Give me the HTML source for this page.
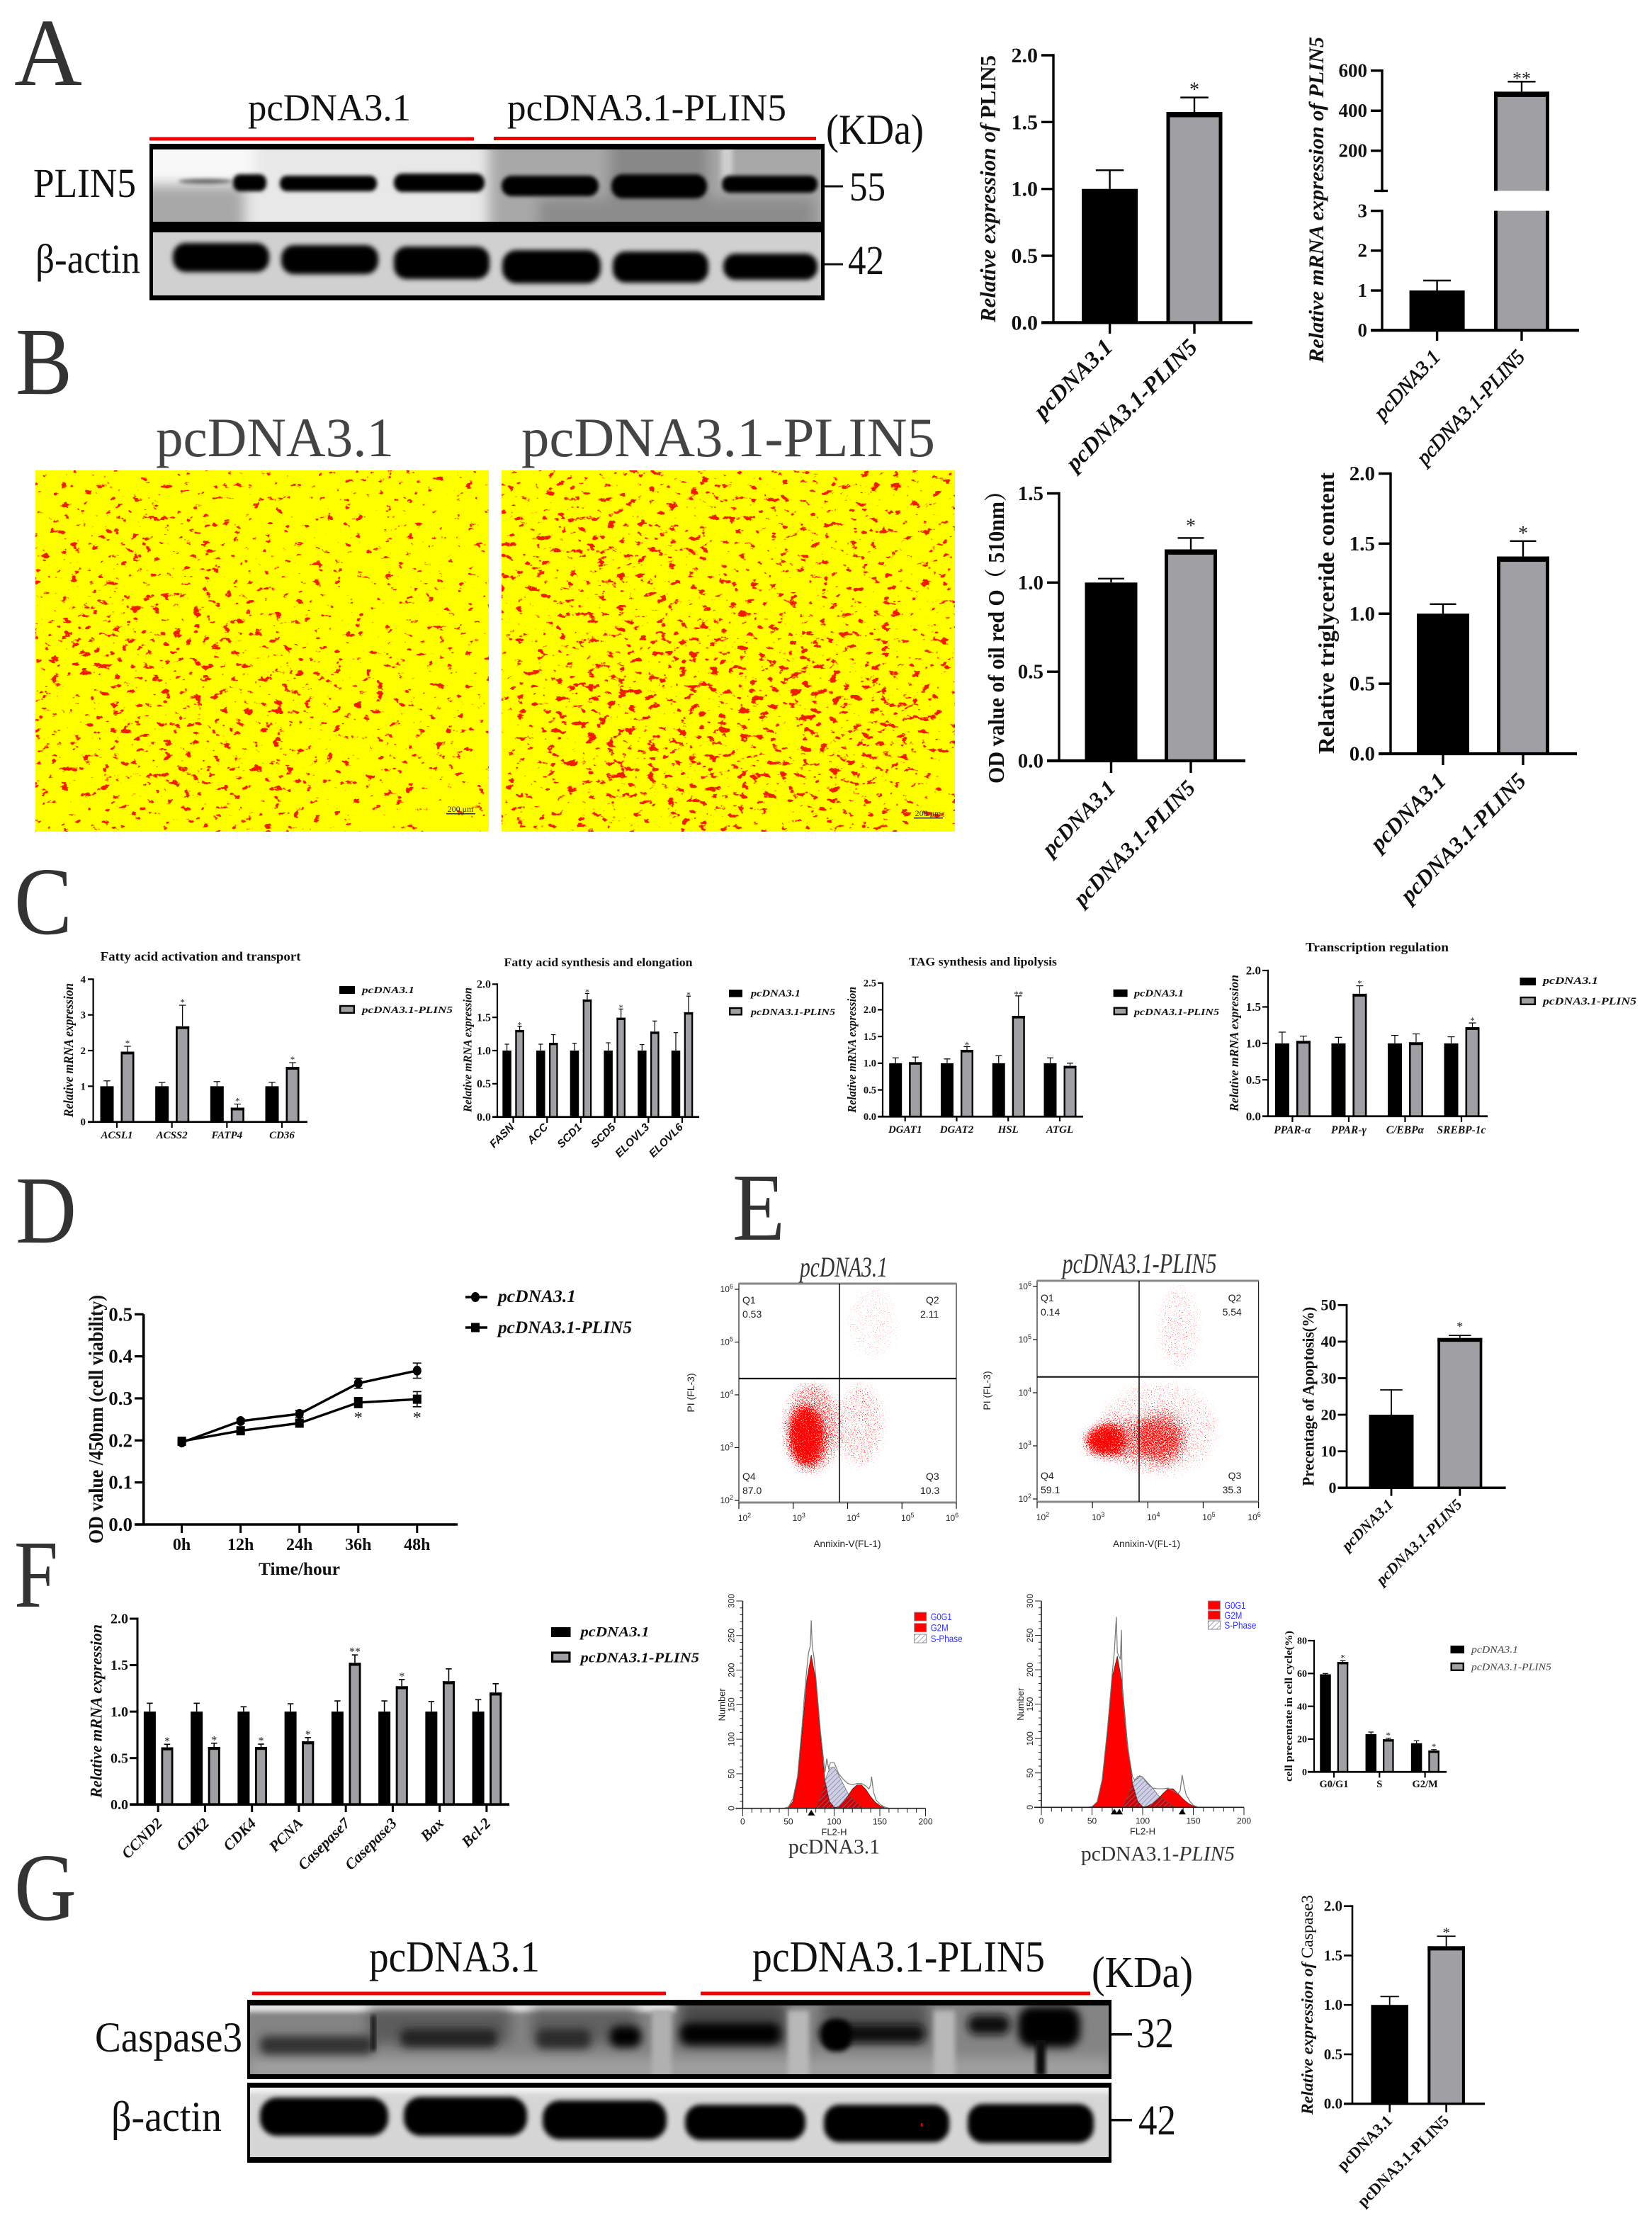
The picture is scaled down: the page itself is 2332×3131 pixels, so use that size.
<!DOCTYPE html>
<html lang="en">
<head>
<meta charset="utf-8">
<title>PLIN5 multi-panel figure</title>
<style>
html,body{margin:0;padding:0;background:#fff;}
svg{display:block;}
text{font-family:"Liberation Serif","DejaVu Serif","Noto Serif CJK SC",serif;}
.sans{font-family:"Liberation Sans","DejaVu Sans",sans-serif;}
.letter{font-size:136px;fill:#333;}
.big{fill:#111;}
</style>
</head>
<body>
<svg id="figure" xmlns="http://www.w3.org/2000/svg" width="2332" height="3131" viewBox="0 0 2332 3131">
<defs>
<filter id="b2" x="-30%" y="-60%" width="160%" height="220%"><feGaussianBlur stdDeviation="2.6"/></filter>
<filter id="b3" x="-30%" y="-70%" width="160%" height="240%"><feGaussianBlur stdDeviation="3.5"/></filter>
<filter id="b5" x="-40%" y="-100%" width="180%" height="300%"><feGaussianBlur stdDeviation="6"/></filter>
<filter id="b9" x="-40%" y="-60%" width="180%" height="220%"><feGaussianBlur stdDeviation="9"/></filter>
<filter id="oilDots" x="0" y="0" width="1" height="1" color-interpolation-filters="sRGB">
<feGaussianBlur in="SourceAlpha" stdDeviation="30" result="d"/>
<feTurbulence type="fractalNoise" baseFrequency="0.07 0.11" numOctaves="4" seed="11" result="t"/>
<feColorMatrix in="t" type="matrix" values="0 0 0 0 0  0 0 0 0 0  0 0 0 0 0  0 0 0 1 0" result="n"/>
<feComposite in="d" in2="n" operator="arithmetic" k1="0" k2="0.15" k3="1" k4="-0.74" result="c"/>
<feComponentTransfer in="c" result="m"><feFuncA type="linear" slope="16"/></feComponentTransfer>
<feFlood flood-color="#f01c00" result="r"/>
<feComposite in="r" in2="m" operator="in"/>
</filter>
<filter id="oilDots2" x="0" y="0" width="1" height="1" color-interpolation-filters="sRGB">
<feGaussianBlur in="SourceAlpha" stdDeviation="30" result="d"/>
<feTurbulence type="fractalNoise" baseFrequency="0.07 0.11" numOctaves="4" seed="29" result="t"/>
<feColorMatrix in="t" type="matrix" values="0 0 0 0 0  0 0 0 0 0  0 0 0 0 0  0 0 0 1 0" result="n"/>
<feComposite in="d" in2="n" operator="arithmetic" k1="0" k2="0.15" k3="1" k4="-0.72" result="c"/>
<feComponentTransfer in="c" result="m"><feFuncA type="linear" slope="16"/></feComponentTransfer>
<feFlood flood-color="#f01c00" result="r"/>
<feComposite in="r" in2="m" operator="in"/>
</filter>
<filter id="speck" x="0" y="0" width="1" height="1" color-interpolation-filters="sRGB">
<feGaussianBlur in="SourceAlpha" stdDeviation="7" result="d"/>
<feTurbulence type="fractalNoise" baseFrequency="0.75" numOctaves="2" seed="5" result="t"/>
<feColorMatrix in="t" type="matrix" values="0 0 0 0 0  0 0 0 0 0  0 0 0 0 0  0 0 0 2.2 -0.6" result="n"/>
<feComposite in="d" in2="n" operator="arithmetic" k1="0" k2="1" k3="1" k4="-1" result="c"/>
<feComponentTransfer in="c" result="m"><feFuncA type="linear" slope="6"/></feComponentTransfer>
<feFlood flood-color="#ff0000" result="f"/>
<feComposite in="f" in2="m" operator="in"/>
</filter>
<pattern id="hatch" width="5" height="5" patternUnits="userSpaceOnUse" patternTransform="rotate(45)">
<rect width="5" height="5" fill="none"/><line x1="0" y1="0" x2="0" y2="5" stroke="#7a7aa8" stroke-width="1.4"/>
</pattern>
<clipPath id="clipA1"><rect x="216" y="211" width="943" height="102"/></clipPath>
<clipPath id="clipA2"><rect x="216" y="328" width="943" height="89"/></clipPath>
<clipPath id="clipG1"><rect x="353" y="2831" width="1212" height="97"/></clipPath>
<clipPath id="clipG2"><rect x="353" y="2947" width="1212" height="98"/></clipPath>
<clipPath id="clipOilL"><rect x="50" y="664" width="640" height="510"/></clipPath>
<clipPath id="clipOilR"><rect x="708" y="664" width="640" height="510"/></clipPath>
</defs>

<rect x="0" y="0" width="2332" height="3131" fill="#fff"/>

<text class="letter" x="20" y="120" textLength="96" lengthAdjust="spacingAndGlyphs">A</text>
<text class="letter" x="22" y="556" textLength="80" lengthAdjust="spacingAndGlyphs">B</text>
<text class="letter" x="20" y="1318" textLength="82" lengthAdjust="spacingAndGlyphs">C</text>
<text class="letter" x="22" y="1754" textLength="86" lengthAdjust="spacingAndGlyphs">D</text>
<text class="letter" x="1034" y="1750" textLength="74" lengthAdjust="spacingAndGlyphs">E</text>
<text class="letter" x="20" y="2268" textLength="62" lengthAdjust="spacingAndGlyphs">F</text>
<text class="letter" x="20" y="2710" textLength="88" lengthAdjust="spacingAndGlyphs">G</text>

<!-- Panel A blot -->
<g>
<text class="big" x="350" y="170" font-size="54" textLength="230" lengthAdjust="spacingAndGlyphs">pcDNA3.1</text>
<text class="big" x="716" y="170" font-size="54" textLength="394" lengthAdjust="spacingAndGlyphs">pcDNA3.1-PLIN5</text>
<text class="big" x="1166" y="203" font-size="60" textLength="138" lengthAdjust="spacingAndGlyphs">(KDa)</text>
<rect x="211" y="193.500" width="458" height="5" fill="#f00000"/>
<rect x="697" y="193" width="455" height="5" fill="#f00000"/>
<rect x="211" y="203" width="953" height="221" fill="#000"/>
<g clip-path="url(#clipA1)">
<rect x="216" y="211" width="943" height="102" fill="#e8e8e8"/>
<rect x="190" y="185" width="170" height="75" fill="#f8f8f8" filter="url(#b9)"/>
<rect x="195" y="262" width="150" height="70" fill="#a8a8a8" filter="url(#b9)"/>
<rect x="690" y="180" width="490" height="160" fill="#a8a8a8" filter="url(#b9)"/>
<rect x="860" y="190" width="140" height="140" fill="#888" filter="url(#b9)"/>
<rect x="760" y="280" width="390" height="50" fill="#8c8c8c" filter="url(#b9)"/>
<rect x="1018" y="195" width="16" height="70" fill="#cfcfcf" filter="url(#b3)"/>
<ellipse cx="290" cy="256" rx="38" ry="3.500" fill="#666" filter="url(#b2)"/>
<rect x="329" y="246" width="47" height="24" rx="10" fill="#000" filter="url(#b2)"/>
<rect x="395" y="248" width="137" height="22" rx="10" fill="#000" filter="url(#b2)"/>
<rect x="556" y="245" width="128" height="26" rx="12" fill="#000" filter="url(#b2)"/>
<rect x="708" y="248" width="137" height="29" rx="14" fill="#000" filter="url(#b2)"/>
<rect x="863" y="246" width="135" height="34" rx="16" fill="#000" filter="url(#b2)"/>
<rect x="1019" y="248" width="135" height="24" rx="11" fill="#000" filter="url(#b2)"/>
</g>
<g clip-path="url(#clipA2)">
<rect x="216" y="328" width="943" height="89" fill="#d0d0d0"/>
<rect x="244" y="343" width="136" height="41" rx="18" fill="#000" filter="url(#b3)"/>
<rect x="397" y="346" width="137" height="41" rx="18" fill="#000" filter="url(#b3)"/>
<rect x="556" y="348" width="135" height="46" rx="18" fill="#000" filter="url(#b3)"/>
<rect x="709" y="353" width="139" height="47" rx="20" fill="#000" filter="url(#b3)"/>
<rect x="865" y="355" width="135" height="44" rx="18" fill="#000" filter="url(#b3)"/>
<rect x="1021" y="358" width="133" height="37" rx="17" fill="#000" filter="url(#b3)"/>
</g>
<text class="big" x="47" y="278" font-size="58" textLength="145" lengthAdjust="spacingAndGlyphs">PLIN5</text>
<text class="big" x="50" y="385" font-size="58" textLength="148" lengthAdjust="spacingAndGlyphs">β-actin</text>
<text class="big" x="1199" y="283" font-size="58" textLength="51" lengthAdjust="spacingAndGlyphs">55</text>
<text class="big" x="1197" y="387" font-size="58" textLength="51" lengthAdjust="spacingAndGlyphs">42</text>
<rect x="1164" y="261.500" width="26" height="3" fill="#111"/>
<rect x="1164" y="371.500" width="26" height="3" fill="#111"/>
</g>

<!-- Panel B oil red images -->
<g>
<text x="220" y="644" font-size="78" fill="#444" textLength="336" lengthAdjust="spacingAndGlyphs">pcDNA3.1</text>
<text x="736" y="644" font-size="78" fill="#444" textLength="584" lengthAdjust="spacingAndGlyphs">pcDNA3.1-PLIN5</text>
<rect x="50" y="664" width="640" height="510" fill="#ffff00"/>
<g clip-path="url(#clipOilL)">
<g filter="url(#oilDots)">
<rect x="-40" y="580" width="820" height="680" fill="#000" fill-opacity="0.3"/>
<ellipse cx="230" cy="990" rx="220" ry="170" fill="#000" fill-opacity="0.5"/>
<ellipse cx="170" cy="800" rx="160" ry="120" fill="#000" fill-opacity="0.4"/>
<ellipse cx="470" cy="1040" rx="180" ry="120" fill="#000" fill-opacity="0.3"/>
</g>
</g>
<rect x="708" y="664" width="640" height="510" fill="#ffff00"/>
<g clip-path="url(#clipOilR)">
<g filter="url(#oilDots2)">
<rect x="620" y="580" width="820" height="680" fill="#000" fill-opacity="0.45"/>
<ellipse cx="1040" cy="1010" rx="280" ry="140" fill="#000" fill-opacity="0.55"/>
<ellipse cx="850" cy="790" rx="160" ry="90" fill="#000" fill-opacity="0.3"/>
</g>
</g>
<text x="650" y="1146" font-size="12" text-anchor="middle" fill="#333">200 μm</text>
<rect x="630" y="1148" width="41" height="1.500" fill="#333"/>
<text x="1310" y="1152" font-size="12" text-anchor="middle" fill="#333">200 μm</text>
<rect x="1290" y="1154" width="41" height="1.500" fill="#333"/>
</g>

<!-- Panel E flow clouds -->
<g filter="url(#speck)">
<rect x="1043" y="1812" width="307" height="309" fill="none"/>
<ellipse cx="1138" cy="2028" rx="24" ry="42" fill="#000"/>
<ellipse cx="1146" cy="2016" rx="38" ry="62" fill="#000" fill-opacity="0.42"/>
<ellipse cx="1214" cy="2012" rx="34" ry="58" fill="#000" fill-opacity="0.2"/>
<ellipse cx="1232" cy="1868" rx="34" ry="50" fill="#000" fill-opacity="0.09"/>
</g>
<g filter="url(#speck)">
<rect x="1464" y="1808" width="313" height="312" fill="none"/>
<ellipse cx="1560" cy="2034" rx="28" ry="22" fill="#000"/>
<ellipse cx="1640" cy="2030" rx="36" ry="40" fill="#000" fill-opacity="0.42"/>
<ellipse cx="1600" cy="2032" rx="66" ry="30" fill="#000" fill-opacity="0.4"/>
<ellipse cx="1635" cy="2018" rx="84" ry="66" fill="#000" fill-opacity="0.15"/>
<ellipse cx="1664" cy="1875" rx="28" ry="58" fill="#000" fill-opacity="0.14"/>
</g>

<!-- Panel G blot -->
<g>
<text class="big" x="521" y="2783" font-size="62" textLength="241" lengthAdjust="spacingAndGlyphs">pcDNA3.1</text>
<text class="big" x="1062" y="2783" font-size="62" textLength="413" lengthAdjust="spacingAndGlyphs">pcDNA3.1-PLIN5</text>
<text class="big" x="1541" y="2805" font-size="62" textLength="143" lengthAdjust="spacingAndGlyphs">(KDa)</text>
<rect x="356" y="2811.500" width="584" height="5" fill="#f00000"/>
<rect x="989" y="2811.500" width="550" height="5" fill="#f00000"/>
<rect x="349" y="2823" width="1220" height="112" fill="#000"/>
<rect x="349" y="2940" width="1220" height="113" fill="#000"/>
<g clip-path="url(#clipG1)">
<rect x="353" y="2831" width="1212" height="97" fill="#848484"/>
<rect x="345" y="2820" width="610" height="20" fill="#e4e4e4" filter="url(#b3)"/>
<rect x="520" y="2835" width="200" height="50" fill="#5c5c5c" filter="url(#b9)"/>
<rect x="750" y="2835" width="150" height="50" fill="#606060" filter="url(#b9)"/>
<rect x="960" y="2825" width="150" height="65" fill="#4a4a4a" filter="url(#b9)"/>
<rect x="1160" y="2825" width="150" height="55" fill="#555" filter="url(#b9)"/>
<rect x="350" y="2905" width="1220" height="30" fill="#a0a0a0" filter="url(#b9)"/>
<rect x="920" y="2838" width="28" height="95" fill="#b0b0b0" filter="url(#b3)"/>
<rect x="1112" y="2838" width="30" height="95" fill="#b8b8b8" filter="url(#b3)"/>
<rect x="1318" y="2838" width="30" height="95" fill="#b8b8b8" filter="url(#b3)"/>
<rect x="367" y="2874" width="160" height="26" rx="10" fill="#333" filter="url(#b5)"/>
<rect x="524" y="2845" width="6" height="50" fill="#111" filter="url(#b2)"/>
<rect x="565" y="2864" width="137" height="26" rx="10" fill="#222" filter="url(#b5)"/>
<rect x="757" y="2864" width="77" height="28" rx="10" fill="#2a2a2a" filter="url(#b5)"/>
<rect x="861" y="2860" width="44" height="30" rx="12" fill="#000" filter="url(#b5)"/>
<rect x="960" y="2856" width="142" height="30" rx="12" fill="#000" filter="url(#b5)"/>
<rect x="1157" y="2858" width="148" height="26" rx="10" fill="#111" filter="url(#b5)"/>
<rect x="1160" y="2850" width="42" height="46" rx="18" fill="#000" filter="url(#b3)"/>
<rect x="1366" y="2844" width="60" height="28" rx="12" fill="#111" filter="url(#b5)"/>
<rect x="1437" y="2832" width="88" height="58" rx="20" fill="#000" filter="url(#b5)"/>
<rect x="1462" y="2880" width="14" height="50" fill="#111" filter="url(#b2)"/>
</g>
<g clip-path="url(#clipG2)">
<rect x="353" y="2947" width="1212" height="98" fill="#d6d6d6"/>
<rect x="345" y="2940" width="1230" height="14" fill="#f4f4f4" filter="url(#b3)"/>
<rect x="367" y="2961" width="181" height="54" rx="24" fill="#000" filter="url(#b3)"/>
<rect x="570" y="2960" width="174" height="55" rx="24" fill="#000" filter="url(#b3)"/>
<rect x="766" y="2965" width="175" height="55" rx="24" fill="#000" filter="url(#b3)"/>
<rect x="967" y="2971" width="170" height="50" rx="22" fill="#000" filter="url(#b3)"/>
<rect x="1163" y="2971" width="177" height="53" rx="22" fill="#000" filter="url(#b3)"/>
<rect x="1366" y="2970" width="178" height="55" rx="22" fill="#000" filter="url(#b3)"/>
<rect x="1300" y="2997" width="2.500" height="5" fill="#e00000"/>
</g>
<text class="big" x="134" y="2896" font-size="60" textLength="208" lengthAdjust="spacingAndGlyphs">Caspase3</text>
<text class="big" x="157" y="3008" font-size="60" textLength="156" lengthAdjust="spacingAndGlyphs">β-actin</text>
<text class="big" x="1604" y="2890" font-size="60" textLength="53" lengthAdjust="spacingAndGlyphs">32</text>
<text class="big" x="1607" y="3013" font-size="60" textLength="53" lengthAdjust="spacingAndGlyphs">42</text>
<rect x="1569" y="2870" width="29" height="3.500" fill="#111"/>
<rect x="1569" y="2991" width="29" height="3.500" fill="#111"/>
</g>

<script>
/* ---------- chart data ---------- */
const twoGroups = ['pcDNA3.1', 'pcDNA3.1-PLIN5'];

const a1Ticks = ['0.0', '0.5', '1.0', '1.5', '2.0'];
const a1Values = [1.0, 1.576];
const a1Errors = [0.14, 0.108];
const a1Stars = ['', '*'];

const a2Ticks = ['0', '1', '2', '3', '200', '400', '600'];
const a2Values = [1.0, 495];
const a2Errors = [0.25, 50];
const a2Stars = ['', '**'];

const b1Ticks = ['0.0', '0.5', '1.0', '1.5'];
const b1Values = [1.0, 1.186];
const b1Errors = [0.022, 0.064];
const b1Stars = ['', '*'];

const b2Ticks = ['0.0', '0.5', '1.0', '1.5', '2.0'];
const b2Values = [1.0, 1.408];
const b2Errors = [0.068, 0.11];
const b2Stars = ['', '*'];

const c1Genes = ['ACSL1', 'ACSS2', 'FATP4', 'CD36'];
const c1Ticks = ['0', '1', '2', '3', '4'];
const c1Control = [1, 1, 1, 1];
const c1ControlErr = [0.15, 0.106, 0.13, 0.11];
const c1Plin5 = [1.97, 2.68, 0.40, 1.54];
const c1Plin5Err = [0.15, 0.59, 0.10, 0.12];
const c1Stars = ['*', '*', '*', '*'];

const c2Genes = ['FASN', 'ACC', 'SCD1', 'SCD5', 'ELOVL3', 'ELOVL6'];
const c2Ticks = ['0.0', '0.5', '1.0', '1.5', '2.0'];
const c2Control = [1, 1, 1, 1, 1, 1];
const c2ControlErr = [0.096, 0.096, 0.11, 0.117, 0.09, 0.27];
const c2Plin5 = [1.31, 1.117, 1.77, 1.495, 1.285, 1.577];
const c2Plin5Err = [0.057, 0.123, 0.09, 0.131, 0.16, 0.243];
const c2Stars = ['*', '', '*', '*', '', '*'];

const c3Genes = ['DGAT1', 'DGAT2', 'HSL', 'ATGL'];
const c3Ticks = ['0.0', '0.5', '1.0', '1.5', '2.0', '2.5'];
const c3Control = [1, 1, 1, 1];
const c3ControlErr = [0.1, 0.08, 0.14, 0.1];
const c3Plin5 = [1.02, 1.25, 1.886, 0.95];
const c3Plin5Err = [0.095, 0.06, 0.374, 0.05];
const c3Stars = ['', '*', '**', ''];

const c4Genes = ['PPAR-α', 'PPAR-γ', 'C/EBPα', 'SREBP-1c'];
const c4Ticks = ['0.0', '0.5', '1.0', '1.5', '2.0'];
const c4Control = [1, 1, 1, 1];
const c4ControlErr = [0.154, 0.083, 0.11, 0.09];
const c4Plin5 = [1.034, 1.68, 1.015, 1.222];
const c4Plin5Err = [0.066, 0.11, 0.115, 0.058];
const c4Stars = ['', '*', '', '*'];

const dTimes = ['0h', '12h', '24h', '36h', '48h'];
const dTicks = ['0.0', '0.1', '0.2', '0.3', '0.4', '0.5'];
const dControl = [0.195, 0.246, 0.263, 0.336, 0.366];
const dControlErr = [0.005, 0.005, 0.008, 0.012, 0.018];
const dPlin5 = [0.198, 0.223, 0.241, 0.29, 0.298];
const dPlin5Err = [0.005, 0.006, 0.007, 0.012, 0.018];
const dStars = ['', '', '', '*', '*'];

const eTicks = ['0', '10', '20', '30', '40', '50'];
const eValues = [20, 41];
const eErrors = [6.8, 0.7];
const eStars = ['', '*'];

const flowExponents = ['2', '3', '4', '5', '6'];
const flowControlQuadrants = ['0.53', '2.11', '10.3', '87.0'];
const flowPlin5Quadrants = ['0.14', '5.54', '35.3', '59.1'];

const fGenes = ['CCND2', 'CDK2', 'CDK4', 'PCNA', 'Casepase7', 'Casepase3', 'Bax', 'Bcl-2'];
const fTicks = ['0.0', '0.5', '1.0', '1.5', '2.0'];
const fControl = [1, 1, 1, 1, 1, 1, 1, 1];
const fControlErr = [0.09, 0.09, 0.052, 0.084, 0.115, 0.115, 0.108, 0.128];
const fPlin5 = [0.615, 0.62, 0.62, 0.68, 1.525, 1.273, 1.327, 1.205];
const fPlin5Err = [0.033, 0.04, 0.03, 0.04, 0.085, 0.072, 0.133, 0.095];
const fStars = ['*', '*', '*', '*', '**', '*', '', ''];

const histYTicks = ['0', '50', '100', '150', '200', '250', '300'];
const histXTicks = ['0', '50', '100', '150', '200'];
const histBinsG0 = [50, 55, 60, 65, 70, 75, 80, 85, 90, 95, 100, 105];
const histBinsS = [80, 85, 90, 95, 100, 105, 110, 115, 120, 125, 130, 135];
const histBinsG2 = [100, 105, 110, 115, 120, 125, 130, 135, 140, 145, 150, 155];

const h1G0 = [1, 10, 42, 110, 185, 222, 185, 105, 40, 10, 2, 0];
const h1S = [0, 15, 40, 58, 60, 48, 35, 22, 14, 8, 3, 0];
const h1G2 = [0, 3, 10, 18, 28, 34, 34, 27, 17, 9, 4, 1];
const h1OutlineX = [45, 50, 55, 60, 65, 68, 70, 72, 74, 75, 76, 78, 80, 85, 90, 92, 94, 96, 98, 100, 102, 105, 110, 115, 120, 125, 130, 135, 138, 140, 141, 143, 146, 150, 155, 160];
const h1OutlineY = [0, 2, 14, 46, 120, 170, 200, 225, 235, 272, 236, 218, 190, 112, 52, 72, 58, 66, 66, 66, 60, 50, 42, 36, 34, 36, 36, 32, 28, 34, 46, 24, 12, 6, 2, 0];
const h1Markers = [75];

const h2G0 = [0, 8, 38, 105, 190, 220, 178, 95, 35, 9, 1, 0];
const h2S = [0, 15, 35, 45, 44, 36, 28, 18, 12, 7, 2, 0];
const h2G2 = [0, 2, 6, 12, 20, 27, 27, 20, 12, 6, 2, 0];
const h2OutlineX = [45, 50, 55, 60, 65, 68, 70, 72, 74, 75, 76, 78, 79, 80, 85, 90, 92, 95, 97, 100, 105, 110, 115, 120, 125, 130, 135, 137, 139, 141, 143, 147, 150, 155];
const h2OutlineY = [0, 1, 8, 40, 110, 160, 195, 225, 277, 225, 222, 215, 258, 170, 90, 44, 40, 42, 46, 44, 34, 28, 27, 27, 28, 24, 20, 24, 47, 30, 18, 8, 3, 0];
const h2Markers = [72, 77, 139];

const cycleLabels = ['G0/G1', 'S', 'G2/M'];
const cycleTicks = ['0', '20', '40', '60', '80'];
const cycleControl = [59.5, 23, 17.5];
const cycleControlErr = [0.5, 1.3, 1.5];
const cyclePlin5 = [67, 19.9, 13];
const cyclePlin5Err = [0.8, 0.6, 0.6];
const cycleStars = ['*', '*', '*'];

const gTicks = ['0.0', '0.5', '1.0', '1.5', '2.0'];
const gValues = [1.0, 1.594];
const gErrors = [0.085, 0.101];
const gStars = ['', '*'];

/* ---------- drawing helpers ---------- */
const svg = document.getElementById('figure');
const NS = 'http://www.w3.org/2000/svg';
const BLACK = '#000';
const GRAY = '#a0a0a4';

function el(tag, attrs, parent) {
  const e = document.createElementNS(NS, tag);
  for (const k in attrs) e.setAttribute(k, attrs[k]);
  (parent || svg).appendChild(e);
  return e;
}

function label(parent, parts, x, y, o, name) {
  const t = el('text', { x: x, y: y, 'font-size': o.size, fill: o.fill || '#111' }, parent);
  
  
  if (o.bold) t.setAttribute('font-weight', 'bold');
  if (o.italic) t.setAttribute('font-style', 'italic');
  if (o.anchor) t.setAttribute('text-anchor', o.anchor);
  if (o.sans) t.setAttribute('class', 'sans');
  if (o.outline) {
    t.setAttribute('stroke', o.fill || '#111');
    t.setAttribute('stroke-width', o.outline);
  }
  if (o.rot !== undefined) t.setAttribute('transform', 'rotate(' + o.rot + ' ' + x + ' ' + y + ')');
  if (o.len) {
    t.setAttribute('textLength', o.len);
    t.setAttribute('lengthAdjust', 'spacingAndGlyphs');
  }
  if (typeof parts === 'string') {
    t.textContent = parts;
  } else {
    parts.forEach(function (p) {
      const s = el('tspan', {}, t);
      s.textContent = p[0];
      if (p[1] === 'italic') s.setAttribute('font-style', 'italic');
      if (p[1] === 'normal') s.setAttribute('font-style', 'normal');
      if (p[2]) s.setAttribute('font-weight', p[2]);
    });
  }
  return t;
}

function drawLegend(parent, L) {
  const g = el('g', {}, parent);
  
  
  twoGroups.forEach(function (nameText, i) {
    const sw = el('rect', {
      x: L.sx + (i ? L.sw2 : 0), y: L.sy[i], width: L.sw - (i ? 2 * L.sw2 : 0), height: L.sh - (i ? L.sw2 : 0),
      fill: i ? GRAY : BLACK, stroke: BLACK, 'stroke-width': i ? L.sw2 * 2 : 0
    }, g);
    
    
    label(g, nameText, L.tx, L.ty[i], { size: L.size, bold: L.bold, italic: true, len: L.lens[i], fill: L.fill }, 'legend-entry-' + (i ? 'plin5' : 'control'));
  });
}

function drawBarChart(c) {
  const L = c.layout;
  const g = el('g', {}, svg);
  
  
  const lowMax = L.max;
  const yLow = function (v) { return L.y0 - v * (L.y0 - L.yTop) / lowMax; };
  const yUp = L.upper ? function (v) { return L.upper.y0 - v * (L.upper.y0 - L.upper.yTop) / L.upper.max; } : null;
  const y = function (v) { return (yUp && v > lowMax) ? yUp(v) : yLow(v); };
  const n = c.categories.length;
  const xAt = function (i) { return L.firstTick + (L.lastTick - L.firstTick) * i / (n - 1); };
  const sw = L.sw;

  c.series.forEach(function (s) {
    s.values.forEach(function (v, i) {
      const gray = s.gray || (s.byIndex && i === 1);
      const x = xAt(i) + (s.off || 0) - L.barW / 2;
      const segs = (yUp && v > lowMax) ? [[y(v), L.upper.y0], [L.yTop, L.y0]] : [[y(v), L.y0]];
      const top = y(v);
      const errTop = y(v + s.errors[i]);
      const stem = el('line', { x1: x + L.barW / 2, x2: x + L.barW / 2, y1: top, y2: errTop, stroke: '#000', 'stroke-width': L.eLw }, g);
      
      
      const cap = el('line', { x1: x + L.barW * 0.25, x2: x + L.barW * 0.75, y1: errTop, y2: errTop, stroke: '#000', 'stroke-width': L.eLw }, g);
      
      
      segs.forEach(function (sg, si) {
        const b = el('rect', { x: x, y: sg[0], width: L.barW, height: Math.max(0, sg[1] - sg[0]), fill: gray ? GRAY : BLACK }, g);
        
        
        if (gray) {
          const sides = el('path', {
            d: 'M' + (x + sw / 2) + ' ' + sg[0] + 'V' + sg[1] + 'M' + (x + L.barW - sw / 2) + ' ' + sg[0] + 'V' + sg[1],
            stroke: '#000', 'stroke-width': sw, fill: 'none'
          }, g);
          
          
        }
        if (gray && si === 0) {
          const tp = el('rect', { x: x, y: sg[0], width: L.barW, height: sw * 1.5, fill: '#000' }, g);
          
          
        }
      });
      const st = s.stars ? s.stars[i] : '';
      if (st) {
        label(g, st, x + L.barW / 2, errTop - L.starGap + L.starSize * 0.47, { size: L.starSize, anchor: 'middle', fill: '#222' }, 'significance-marker-' + c.categories[i]);
      }
    });
  });

  /* axes */
  const axisLines = L.upper
    ? [[L.axisX, L.y0, L.axisX, L.yTop], [L.axisX, L.upper.y0, L.axisX, L.upper.yTop]]
    : [[L.axisX, L.y0, L.axisX, L.yTop]];
  axisLines.forEach(function (a) {
    const ln = el('line', { x1: a[0], y1: a[1], x2: a[2], y2: a[3], stroke: '#000', 'stroke-width': L.lw, 'stroke-linecap': 'square' }, g);
    
    
  });
  if (L.upper) {
    const brk = el('line', { x1: L.axisX - 11, x2: L.axisX + 8, y1: L.upper.y0, y2: L.upper.y0, stroke: '#000', 'stroke-width': L.lw }, g);
    
    
  }
  const base = el('line', { x1: L.tickLeft, x2: L.xEnd, y1: L.y0, y2: L.y0, stroke: '#000', 'stroke-width': L.lw * 1.25 }, g);
  
  

  c.ticks.forEach(function (tickText) {
    const yy = y(parseFloat(tickText));
    const tk = el('line', { x1: L.tickLeft, x2: L.axisX, y1: yy, y2: yy, stroke: '#000', 'stroke-width': L.lw }, g);
    
    
    label(g, tickText, L.tickLeft - L.tickPad, yy + L.tickSize * 0.33, { size: L.tickSize, bold: true, anchor: 'end' }, 'y-tick-label-' + tickText);
  });

  c.categories.forEach(function (cat, i) {
    const tk = el('line', { x1: xAt(i), x2: xAt(i), y1: L.y0, y2: L.tickDown, stroke: '#000', 'stroke-width': L.lw }, g);
    
    
    const X = c.xLabel;
    label(g, cat, xAt(i) + (X.dx || 0), X.y, { size: X.size, bold: X.bold, italic: X.italic, rot: X.rot, anchor: X.rot !== undefined ? 'end' : 'middle', sans: X.sans, outline: X.outline }, 'x-tick-label-' + cat);
  });

  const T = c.yTitle;
  label(g, T.parts, T.x, T.y, { size: T.size, bold: T.bold, italic: T.italic, rot: -90, len: T.len }, 'y-axis-title');
  if (c.title) label(g, c.title.text, c.title.x, c.title.y, { size: c.title.size, bold: true, len: c.title.len }, 'chart-title');
  if (c.legend) drawLegend(g, c.legend);
}

function groupedSeries(ctrl, ctrlErr, plin, plinErr, stars, offA, offB) {
  return [
    { values: ctrl, errors: ctrlErr, off: offA },
    { values: plin, errors: plinErr, off: offB, gray: true, stars: stars }
  ];
}

/* ---------- panel A ---------- */
drawBarChart({
  name: 'chart-plin5-protein', categories: twoGroups, ticks: a1Ticks,
  series: [{ values: a1Values, errors: a1Errors, byIndex: true, stars: a1Stars }],
  layout: { axisX: 1487, y0: 455.4, yTop: 78, max: 2, tickLeft: 1470, xEnd: 1768, firstTick: 1566.6, lastTick: 1686, barW: 79, sw: 5, lw: 3.4, eLw: 2.4, tickDown: 471, tickPad: 5, tickSize: 30, starGap: 15.5, starSize: 28 },
  xLabel: { size: 33, bold: true, italic: true, rot: -45, dx: 6, y: 492 },
  yTitle: { parts: [['Relative expression of ', 'italic'], ['PLIN5', 'normal']], x: 1405, y: 455, size: 31, bold: true, len: 377 }
});
drawBarChart({
  name: 'chart-plin5-mrna', categories: twoGroups, ticks: a2Ticks,
  series: [{ values: a2Values, errors: a2Errors, byIndex: true, stars: a2Stars }],
  layout: { axisX: 1951, y0: 466.3, yTop: 297.6, max: 3, upper: { y0: 269.4, yTop: 99.7, max: 600 }, tickLeft: 1935, xEnd: 2229, firstTick: 2028.6, lastTick: 2148, barW: 78, sw: 5, lw: 3.4, eLw: 2.4, tickDown: 481, tickPad: 5, tickSize: 27, starGap: 8, starSize: 26 },
  xLabel: { size: 29, italic: true, outline: 0.7, rot: -47, dx: 6, y: 505 },
  yTitle: { parts: 'Relative mRNA expression of PLIN5', x: 1868, y: 512, size: 30, bold: true, italic: true, len: 460 }
});

/* ---------- panel B ---------- */
drawBarChart({
  name: 'chart-oil-red-od', categories: twoGroups, ticks: b1Ticks,
  series: [{ values: b1Values, errors: b1Errors, byIndex: true, stars: b1Stars }],
  layout: { axisX: 1495, y0: 1074, yTop: 696.5, max: 1.5, tickLeft: 1478, xEnd: 1758, firstTick: 1568.5, lastTick: 1681, barW: 74, sw: 5, lw: 3.4, eLw: 2.4, tickDown: 1091, tickPad: 5, tickSize: 29, starGap: 21, starSize: 28 },
  xLabel: { size: 31, bold: true, italic: true, rot: -46, dx: 8, y: 1114 },
  yTitle: { parts: 'OD value of oil red O（ 510nm）', x: 1417, y: 1106, size: 32, bold: true, len: 428 }
});
drawBarChart({
  name: 'chart-triglyceride', categories: twoGroups, ticks: b2Ticks,
  series: [{ values: b2Values, errors: b2Errors, byIndex: true, stars: b2Stars }],
  layout: { axisX: 1963, y0: 1064, yTop: 668.5, max: 2, tickLeft: 1946, xEnd: 2226, firstTick: 2037, lastTick: 2150, barW: 74, sw: 5, lw: 3.4, eLw: 2.4, tickDown: 1080, tickPad: 5, tickSize: 29, starGap: 15, starSize: 28 },
  xLabel: { size: 32, bold: true, italic: true, rot: -46, dx: 6, y: 1104 },
  yTitle: { parts: 'Relative triglyceride content', x: 1883, y: 1064, size: 32, bold: true, len: 397 }
});

/* ---------- panel C ---------- */
drawBarChart({
  name: 'chart-fatty-acid-activation', categories: c1Genes, ticks: c1Ticks,
  series: groupedSeries(c1Control, c1ControlErr, c1Plin5, c1Plin5Err, c1Stars, -14, 15),
  layout: { axisX: 131.6, y0: 1583.7, yTop: 1382.3, max: 4, tickLeft: 124, xEnd: 434, firstTick: 165, lastTick: 398, barW: 19, sw: 2.6, lw: 2.2, eLw: 1.2, tickDown: 1592, tickPad: 3, tickSize: 15, starGap: 6, starSize: 13 },
  xLabel: { size: 15, bold: true, italic: true, y: 1607 },
  yTitle: { parts: 'Relative mRNA expression', x: 103, y: 1577, size: 19, bold: true, italic: true, len: 189 },
  title: { text: 'Fatty acid activation and transport', x: 141.6, y: 1356, size: 18, len: 283 },
  legend: { sx: 479, sy: [1392, 1420], sw: 22, sh: 11, sw2: 1.2, tx: 511, ty: [1402, 1430], size: 14, bold: true, lens: [74, 128] }
});
drawBarChart({
  name: 'chart-fatty-acid-synthesis', categories: c2Genes, ticks: c2Ticks,
  series: groupedSeries(c2Control, c2ControlErr, c2Plin5, c2Plin5Err, c2Stars, -9, 9),
  layout: { axisX: 702, y0: 1576.7, yTop: 1389.3, max: 2, tickLeft: 695, xEnd: 987, firstTick: 724.6, lastTick: 963, barW: 12.5, sw: 2.2, lw: 2.2, eLw: 1.2, tickDown: 1585, tickPad: 2, tickSize: 16, starGap: 4, starSize: 12 },
  xLabel: { size: 15.5, bold: true, italic: true, sans: true, rot: -45, dx: 2, y: 1592 },
  yTitle: { parts: 'Relative mRNA expression', x: 665.6, y: 1570, size: 17, bold: true, italic: true, len: 176 },
  title: { text: 'Fatty acid synthesis and elongation', x: 711.5, y: 1364, size: 17, len: 266 },
  legend: { sx: 1029, sy: [1397, 1423], sw: 19, sh: 10.5, sw2: 1.2, tx: 1060, ty: [1406.6, 1433], size: 14, bold: true, lens: [70, 119] }
});
drawBarChart({
  name: 'chart-tag-synthesis', categories: c3Genes, ticks: c3Ticks,
  series: groupedSeries(c3Control, c3ControlErr, c3Plin5, c3Plin5Err, c3Stars, -13.5, 14.5),
  layout: { axisX: 1246, y0: 1576.3, yTop: 1387.7, max: 2.5, tickLeft: 1239, xEnd: 1529, firstTick: 1277.7, lastTick: 1496, barW: 18, sw: 2.4, lw: 2.2, eLw: 1.2, tickDown: 1583, tickPad: 2, tickSize: 14.5, starGap: 4, starSize: 13 },
  xLabel: { size: 15, bold: true, italic: true, y: 1599 },
  yTitle: { parts: 'Relative mRNA expression', x: 1208, y: 1570.7, size: 17, bold: true, italic: true, len: 178 },
  title: { text: 'TAG synthesis and lipolysis', x: 1283, y: 1363, size: 17, len: 209 },
  legend: { sx: 1571.6, sy: [1396.7, 1422.7], sw: 20, sh: 10.5, sw2: 1.2, tx: 1601, ty: [1406.7, 1433], size: 14, bold: true, lens: [70, 120] }
});
drawBarChart({
  name: 'chart-transcription-regulation', categories: c4Genes, ticks: c4Ticks,
  series: groupedSeries(c4Control, c4ControlErr, c4Plin5, c4Plin5Err, c4Stars, -14.5, 15.5),
  layout: { axisX: 1790, y0: 1575.7, yTop: 1370, max: 2, tickLeft: 1782, xEnd: 2100, firstTick: 1824.4, lastTick: 2063, barW: 20, sw: 2.6, lw: 2.2, eLw: 1.2, tickDown: 1584, tickPad: 2, tickSize: 17, starGap: 5, starSize: 13 },
  xLabel: { size: 15.5, bold: true, italic: true, y: 1600 },
  yTitle: { parts: 'Relative mRNA expression', x: 1748, y: 1569, size: 18, bold: true, italic: true, len: 193 },
  title: { text: 'Transcription regulation', x: 1843, y: 1343, size: 18, len: 202 },
  legend: { sx: 2145.5, sy: [1380, 1408], sw: 22.5, sh: 11, sw2: 1.2, tx: 2178, ty: [1389, 1418], size: 14.5, bold: true, lens: [78, 132] }
});

/* ---------- panel D line chart ---------- */
(function () {
  const g = el('g', {}, svg);
  
  
  const y = function (v) { return 2152 - v * (2152 - 1855.3) / 0.5; };
  const x = function (i) { return 256.6 + i * (588.8 - 256.6) / (dTimes.length - 1); };
  [[dControl, dControlErr, 'circle', 'control'], [dPlin5, dPlin5Err, 'square', 'plin5']].forEach(function (s) {
    const pl = el('polyline', { points: s[0].map(function (v, i) { return x(i) + ',' + y(v); }).join(' '), fill: 'none', stroke: '#000', 'stroke-width': 3.4 }, g);
    
    
    s[0].forEach(function (v, i) {
      const e = s[1][i];
      const eb = el('path', { d: 'M' + (x(i) - 6) + ' ' + y(v + e) + 'H' + (x(i) + 6) + 'M' + x(i) + ' ' + y(v + e) + 'V' + y(v - e) + 'M' + (x(i) - 6) + ' ' + y(v - e) + 'H' + (x(i) + 6), stroke: '#000', 'stroke-width': 1.6, fill: 'none' }, g);
      
      
      let m;
      if (s[2] === 'circle') {
        m = el('ellipse', { cx: x(i), cy: y(v), rx: 6, ry: 7, fill: '#000' }, g);
      } else {
        m = el('rect', { x: x(i) - 6, y: y(v) - 6.5, width: 12, height: 13, fill: '#000' }, g);
      }
      
      
    });
  });
  const ax = el('path', { d: 'M202.7 1855.3V2152M190 2152H646', stroke: '#000', 'stroke-width': 3.6, fill: 'none' }, g);
  
  
  dTicks.forEach(function (t) {
    const yy = y(parseFloat(t));
    const tk = el('line', { x1: 190, x2: 202.7, y1: yy, y2: yy, stroke: '#000', 'stroke-width': 3.2 }, g);
    
    
    label(g, t, 187, yy + 9, { size: 27, bold: true, anchor: 'end' }, 'y-tick-label-' + t);
  });
  dTimes.forEach(function (t, i) {
    const tk = el('line', { x1: x(i), x2: x(i), y1: 2152, y2: 2164, stroke: '#000', 'stroke-width': 3 }, g);
    
    
    label(g, t, x(i), 2188, { size: 24, bold: true, anchor: 'middle' }, 'x-tick-label-' + t);
    if (dStars[i]) label(g, dStars[i], x(i), 2009, { size: 24, anchor: 'middle', fill: '#222' }, 'significance-marker-' + t);
  });
  label(g, 'Time/hour', 365, 2223, { size: 25, bold: true, len: 115 }, 'x-axis-title');
  label(g, 'OD value /450nm (cell viability)', 145, 2179, { size: 28, bold: true, rot: -90, len: 351 }, 'y-axis-title');
  const l1 = el('line', { x1: 657, x2: 688, y1: 1831, y2: 1831, stroke: '#000', 'stroke-width': 3.4 }, g);
  
  
  const m1 = el('ellipse', { cx: 671, cy: 1831, rx: 6, ry: 7, fill: '#000' }, g);
  
  
  const l2 = el('line', { x1: 657, x2: 688, y1: 1874, y2: 1874, stroke: '#000', 'stroke-width': 3.4 }, g);
  
  
  const m2 = el('rect', { x: 665, y: 1867.5, width: 12, height: 13, fill: '#000' }, g);
  
  
  label(g, 'pcDNA3.1', 703, 1838, { size: 25, bold: true, italic: true, len: 110 }, 'legend-entry-control');
  label(g, 'pcDNA3.1-PLIN5', 703, 1882, { size: 25, bold: true, italic: true, len: 189 }, 'legend-entry-plin5');
})();

/* ---------- panel E flow cytometry frames ---------- */
function drawFlowFrame(P) {
  const g = el('g', {}, svg);
  
  
  const box = el('rect', { x: P.x0, y: P.y0, width: P.x1 - P.x0, height: P.y1 - P.y0, fill: 'none', stroke: '#222', 'stroke-width': 1.2 }, g);
  
  
  const tp = el('rect', { x: P.x0, y: P.y0 - 1.5, width: P.x1 - P.x0, height: 3, fill: '#888' }, g);
  
  
  const bt = el('rect', { x: P.x0, y: P.y1 - 1.5, width: P.x1 - P.x0, height: 3, fill: '#888' }, g);
  
  
  const v = el('line', { x1: P.vx, x2: P.vx, y1: P.y0, y2: P.y1, stroke: '#111', 'stroke-width': 1.6 }, g);
  
  
  const h = el('line', { x1: P.x0, x2: P.x1, y1: P.hy, y2: P.hy, stroke: '#111', 'stroke-width': 2.2 }, g);
  
  
  flowExponents.forEach(function (ex, i) {
    const tx = P.x0 + i * (P.x1 - P.x0) / (flowExponents.length - 1);
    const ty = P.yBottom - i * (P.yBottom - P.yUpper) / (flowExponents.length - 1);
    const xt = el('line', { x1: tx, x2: tx, y1: P.y1, y2: P.y1 + 9, stroke: '#111', 'stroke-width': 1.2 }, g);
    
    
    const yt = el('line', { x1: P.x0 - 6, x2: P.x0, y1: ty, y2: ty, stroke: '#111', 'stroke-width': 1.2 }, g);
    
    
    const xl = label(g, '10', tx + (i === flowExponents.length - 1 ? -6 : 8), P.y1 + 26, { size: 12, sans: true, anchor: 'middle', fill: '#222' }, 'x-tick-label-10e' + ex);
    const s1 = el('tspan', { dy: -5, 'font-size': 9 }, xl);
    s1.textContent = ex;
    const yl = label(g, '10', P.x0 - 8, ty + 4, { size: 12, sans: true, anchor: 'end', fill: '#222' }, 'y-tick-label-10e' + ex);
    const s2 = el('tspan', { dy: -5, 'font-size': 9 }, yl);
    s2.textContent = ex;
  });
  const lab = { size: 14, sans: true, fill: '#222' };
  label(g, 'Q1', P.x0 + 5, P.qy[0], lab, 'quadrant-label-q1');
  label(g, P.values[0], P.x0 + 5, P.qy[1], lab, 'quadrant-value-q1');
  label(g, 'Q2', P.x1 - 43, P.qy[0], lab, 'quadrant-label-q2');
  label(g, P.values[1], P.x1 - 51, P.qy[1], lab, 'quadrant-value-q2');
  label(g, 'Q3', P.x1 - 43, P.qy[2], lab, 'quadrant-label-q3');
  label(g, P.values[2], P.x1 - 51, P.qy[3], lab, 'quadrant-value-q3');
  label(g, 'Q4', P.x0 + 5, P.qy[2], lab, 'quadrant-label-q4');
  label(g, P.values[3], P.x0 + 5, P.qy[3], lab, 'quadrant-value-q4');
  label(g, 'PI (FL-3)', P.yLabelX, P.yLabelY, { size: 14, sans: true, anchor: 'middle', rot: -90, fill: '#222' }, 'y-axis-title');
  label(g, 'Annixin-V(FL-1)', P.xLabelX, 2184, { size: 14, sans: true, anchor: 'middle', len: 95, fill: '#222' }, 'x-axis-title');
  label(g, P.title, P.titleX, P.titleY, { size: 40, italic: true, len: P.titleLen, fill: '#333' }, 'plot-title');
}
drawFlowFrame({ name: 'flow-plot-control', title: 'pcDNA3.1', titleX: 1129, titleY: 1802, titleLen: 124, x0: 1043, x1: 1350, y0: 1812, y1: 2121, vx: 1185, hy: 1946, yBottom: 2118, yUpper: 1820, qy: [1840, 1860, 2089, 2109], values: flowControlQuadrants, yLabelX: 980, yLabelY: 1966, xLabelX: 1196 });
drawFlowFrame({ name: 'flow-plot-plin5', title: 'pcDNA3.1-PLIN5', titleX: 1499.5, titleY: 1797, titleLen: 218, x0: 1464, x1: 1776.6, y0: 1808, y1: 2120, vx: 1608, hy: 1943.7, yBottom: 2116, yUpper: 1816, qy: [1837, 1857, 2088, 2108], values: flowPlin5Quadrants, yLabelX: 1398, yLabelY: 1963, xLabelX: 1618.5 });

drawBarChart({
  name: 'chart-apoptosis', categories: twoGroups, ticks: eTicks,
  series: [{ values: eValues, errors: eErrors, byIndex: true, stars: eStars }],
  layout: { axisX: 1901, y0: 2100.3, yTop: 1842.3, max: 50, tickLeft: 1888.5, xEnd: 2125.6, firstTick: 1964, lastTick: 2060.8, barW: 63, sw: 3.6, lw: 2.8, eLw: 1.8, tickDown: 2111.7, tickPad: 2, tickSize: 22, starGap: 15, starSize: 18 },
  xLabel: { size: 21.5, bold: true, italic: true, rot: -45, dx: 4, y: 2125 },
  yTitle: { parts: 'Precentage of Apoptosis(%)', x: 1854.7, y: 2097.7, size: 23, bold: true, len: 253 }
});

/* ---------- panel F ---------- */
drawBarChart({
  name: 'chart-cell-cycle-genes', categories: fGenes, ticks: fTicks,
  series: groupedSeries(fControl, fControlErr, fPlin5, fPlin5Err, fStars, -11.8, 12.8),
  layout: { axisX: 194, y0: 2547.3, yTop: 2285, max: 2, tickLeft: 183, xEnd: 719, firstTick: 223.2, lastTick: 686.9, barW: 17, sw: 2.8, lw: 3, eLw: 1.6, tickDown: 2558, tickPad: 2, tickSize: 20, starGap: 7, starSize: 16 },
  xLabel: { size: 21.5, bold: true, italic: true, rot: -45, dx: 7, y: 2575 },
  yTitle: { parts: 'Relative mRNA expression', x: 143.5, y: 2538, size: 23, bold: true, italic: true, len: 245 },
  legend: { sx: 778, sy: [2297, 2333], sw: 27.5, sh: 14, sw2: 1.6, tx: 819.5, ty: [2310, 2346.7], size: 20, bold: true, lens: [97, 167.5] }
});

/* ---------- cell cycle histograms ---------- */
function drawHistogram(H) {
  const g = el('g', {}, svg);
  
  
  const x = function (v) { return H.x0 + v * (H.x1 - H.x0) / 200; };
  const y = function (v) { return H.y0 - v * (H.y0 - H.yTop) / 300; };
  const area = function (bins, vals) {
    return x(bins[0]) + ',' + H.y0 + ' ' + bins.map(function (b, i) { return x(b) + ',' + y(vals[i]); }).join(' ') + ' ' + x(bins[bins.length - 1]) + ',' + H.y0;
  };
  const p1 = el('polygon', { points: area(histBinsG0, H.g0), fill: '#ff0000', stroke: '#222', 'stroke-width': 0.6 }, g);
  
  
  const p2 = el('polygon', { points: area(histBinsG2, H.g2), fill: '#ff0000', stroke: '#222', 'stroke-width': 0.6 }, g);
  
  
  const p3 = el('polygon', { points: area(histBinsS, H.s), fill: '#d0d0e4', style: 'mix-blend-mode:multiply' }, g);
  
  
  const p4 = el('polygon', { points: area(histBinsS, H.s), fill: 'url(#hatch)', stroke: '#555', 'stroke-width': 0.6 }, g);
  
  
  const o = el('polyline', { points: H.ox.map(function (b, i) { return x(b) + ',' + y(H.oy[i]); }).join(' '), fill: 'none', stroke: '#777', 'stroke-width': 1.2 }, g);
  
  
  const ax = el('path', { d: 'M' + H.x0 + ' ' + H.yTop + 'V' + H.y0 + 'M' + (H.x0 - 10) + ' ' + H.y0 + 'H' + H.x1, stroke: '#222', 'stroke-width': 1.6, fill: 'none' }, g);
  
  
  for (let v = 0; v <= 200; v += 10) {
    const t = el('line', { x1: x(v), x2: x(v), y1: H.y0, y2: H.y0 + (v % 50 === 0 ? 11 : 6), stroke: '#222', 'stroke-width': 1 }, g);
    
    
  }
  for (let v = 0; v <= 300; v += 10) {
    const t = el('line', { x1: H.x0 - (v % 50 === 0 ? 9 : 4), x2: H.x0, y1: y(v), y2: y(v), stroke: '#222', 'stroke-width': 1 }, g);
    
    
  }
  histXTicks.forEach(function (t) {
    label(g, t, x(parseFloat(t)), H.y0 + 23, { size: 12, sans: true, anchor: 'middle', fill: '#222' }, 'x-tick-label-' + t);
  });
  histYTicks.forEach(function (t) {
    label(g, t, H.x0 - 12, y(parseFloat(t)), { size: 12, sans: true, anchor: 'middle', rot: -90, fill: '#222' }, 'y-tick-label-' + t);
  });
  label(g, 'FL2-H', x(100), H.y0 + 38, { size: 13, sans: true, anchor: 'middle', fill: '#222' }, 'x-axis-title');
  label(g, 'Number', H.x0 - 25, y(150), { size: 13, sans: true, anchor: 'middle', rot: -90, fill: '#222' }, 'y-axis-title');
  H.markers.forEach(function (m) {
    const a = el('polygon', { points: x(m) + ',' + (H.y0 + 2) + ' ' + (x(m) - 5) + ',' + (H.y0 + 10) + ' ' + (x(m) + 5) + ',' + (H.y0 + 10), fill: '#000' }, g);
    
    
  });
  ['G0G1', 'G2M', 'S-Phase'].forEach(function (name, i) {
    const s = el('rect', { x: H.lx, y: H.ly[i], width: 17, height: 12, fill: i < 2 ? '#ff0000' : 'url(#hatch)', stroke: '#888', 'stroke-width': 1 }, g);
    
    
    label(g, name, H.lx + 23, H.ly[i] + 11, { size: 14, sans: true, fill: '#3333ff', len: [30, 25, 45][i] }, 'legend-entry-' + name);
  });
  label(g, H.caption, H.capX, H.capY, { size: 30, fill: '#333', len: H.capLen }, 'histogram-caption');
}
drawHistogram({ name: 'histogram-control', g0: h1G0, s: h1S, g2: h1G2, ox: h1OutlineX, oy: h1OutlineY, markers: h1Markers, x0: 1048.4, x1: 1306.5, y0: 2552.7, yTop: 2260, lx: 1290.7, ly: [2276, 2291.7, 2307], caption: 'pcDNA3.1', capX: 1113, capY: 2616.7, capLen: 129 });
drawHistogram({ name: 'histogram-plin5', g0: h2G0, s: h2S, g2: h2G2, ox: h2OutlineX, oy: h2OutlineY, markers: h2Markers, x0: 1470, x1: 1756, y0: 2551.3, yTop: 2260, lx: 1705.4, ly: [2260, 2274, 2288], caption: [['pcDNA3.1-', 'normal'], ['PLIN5', 'italic']], capX: 1526, capY: 2626.7, capLen: 217 });

drawBarChart({
  name: 'chart-cell-cycle-percent', categories: cycleLabels, ticks: cycleTicks,
  series: groupedSeries(cycleControl, cycleControlErr, cyclePlin5, cyclePlin5Err, cycleStars, -12, 12.5),
  layout: { axisX: 1855, y0: 2501.3, yTop: 2316, max: 80, tickLeft: 1846, xEnd: 2042, firstTick: 1883, lastTick: 2011.6, barW: 15.5, sw: 2.2, lw: 2.2, eLw: 1.2, tickDown: 2509.3, tickPad: 1, tickSize: 14, starGap: 6, starSize: 13 },
  xLabel: { size: 14.5, bold: true, y: 2523 },
  yTitle: { parts: 'cell precentate in cell cycle(%)', x: 1824, y: 2515, size: 15, bold: true, len: 213 },
  legend: { sx: 2047.5, sy: [2323, 2348], sw: 19.5, sh: 11, sw2: 1.2, tx: 2077, ty: [2333, 2357.7], size: 14, bold: false, lens: [66, 113], fill: '#444' }
});

/* ---------- panel G ---------- */
drawBarChart({
  name: 'chart-caspase3-protein', categories: twoGroups, ticks: gTicks,
  series: [{ values: gValues, errors: gErrors, byIndex: true, stars: gStars }],
  layout: { axisX: 1909, y0: 2969.7, yTop: 2690.7, max: 2, tickLeft: 1897, xEnd: 2096, firstTick: 1961.7, lastTick: 2041.6, barW: 52.5, sw: 4, lw: 2.6, eLw: 1.8, tickDown: 2981.7, tickPad: 2, tickSize: 21, starGap: 8, starSize: 20 },
  xLabel: { size: 22.5, bold: true, rot: -45, dx: 5, y: 2995 },
  yTitle: { parts: [['Relative  expression of ', 'italic', 'bold'], ['Caspase3', 'normal']], x: 1853, y: 2985, size: 23, bold: false, len: 310 }
});
</script>
</svg>
</body>
</html>
